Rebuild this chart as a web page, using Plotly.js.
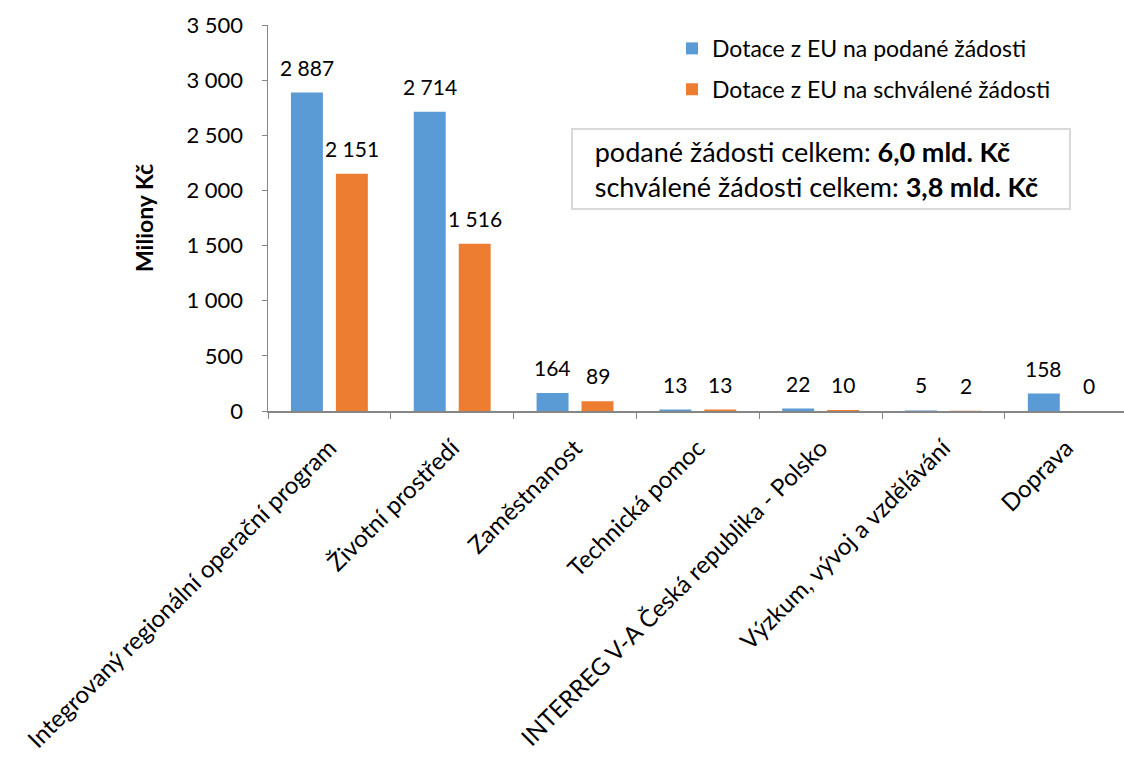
<!DOCTYPE html>
<html>
<head>
<meta charset="utf-8">
<script src="https://cdn.plot.ly/plotly-3.0.1.min.js"></script>
<style>html,body{margin:0;padding:0;overflow:hidden;background:#fff}</style>
</head>
<body>
<div id="chart" style="width:1124px;height:758px"></div>
<script>
var categories = ["Integrovaný regionální operační program", "Životní prostředí", "Zaměstnanost", "Technická pomoc", "INTERREG V-A Česká republika - Polsko", "Výzkum, vývoj a vzdělávání", "Doprava"];
var podane = [2887, 2714, 164, 13, 22, 5, 158];
var schvalene = [2151, 1516, 89, 13, 10, 2, 0];
var seriesNames = ["Dotace z EU na podané žádosti", "Dotace z EU na schválené žádosti"];
var yTicks = [0, 500, 1000, 1500, 2000, 2500, 3000, 3500];

function fmt(v){ return String(v).replace(/\B(?=(\d{3})+(?!\d))/g, ' '); }

var FONT = "Lato, 'Open Sans', sans-serif";

var traces = [
  {type:'bar', x:categories, y:podane, name:seriesNames[0], marker:{color:'#5B9BD5'}, legendgroup:'a', hoverinfo:'y'},
  {type:'bar', x:categories, y:schvalene, name:seriesNames[1], marker:{color:'#ED7D31'}, legendgroup:'b', hoverinfo:'y'}
];

var annotations = [];
[podane, schvalene].forEach(function(arr, si){
  arr.forEach(function(v, i){
    annotations.push({x:categories[i], y:v, xref:'x', yref:'y', text:fmt(v), showarrow:false,
      xshift: si===0 ? -22.5 : 22.5, yanchor:'bottom', yshift:11,
      font:{family:FONT, size:21, color:'#000'}});
  });
});
annotations.push({
  xref:'paper', yref:'paper', x:(571-268)/856, y:(411-128)/386, xanchor:'left', yanchor:'top',
  showarrow:false, align:'left', width:494, height:76, borderpad:1,
  bordercolor:'#d9d9d9', borderwidth:2, bgcolor:'#fff',
  text:'&nbsp;&nbsp;&nbsp;podané žádosti celkem: <b>6,0 mld. Kč</b><br>&nbsp;&nbsp;&nbsp;schválené žádosti celkem: <b>3,8 mld. Kč</b>',
  font:{family:FONT, size:27, color:'#000'}
});

var layout = {
  width:1124, height:758,
  margin:{l:268, r:0, t:25, b:347},
  paper_bgcolor:'#fff', plot_bgcolor:'#fff',
  barmode:'group', bargap:0.268, bargroupgap:0.289,
  separators:', ',
  font:{family:FONT, size:22, color:'#000'},
  showlegend:true,
  legend:{x:(672-268)/856, y:0.995, xanchor:'left', yanchor:'top', tracegroupgap:8,
    font:{family:FONT, size:23, color:'#000'}, bgcolor:'rgba(0,0,0,0)'},
  xaxis:{type:'category', range:[-0.5, 6.47], tickangle:-45, ticks:'outside', tickson:'boundaries',
    ticklen:6, tickcolor:'#868686', showline:true, linecolor:'#868686', linewidth:1.5,
    showgrid:false, tickfont:{family:FONT, size:24, color:'#000'}, ticklabelstandoff:12, automargin:false},
  yaxis:{range:[0,3500], tickvals:yTicks, ticktext:yTicks.map(fmt), ticks:'outside', ticklen:5,
    tickcolor:'#868686', showline:true, linecolor:'#868686', linewidth:1.5, showgrid:false,
    zeroline:false, tickfont:{family:FONT, size:22, color:'#000'}, ticklabelstandoff:14,
    title:{text:'<b>Miliony Kč</b>', font:{family:FONT, size:23, color:'#000'}, standoff:26}, automargin:false},
  annotations:annotations
};

Plotly.newPlot('chart', traces, layout, {displayModeBar:false, staticPlot:true});
</script>
</body>
</html>
